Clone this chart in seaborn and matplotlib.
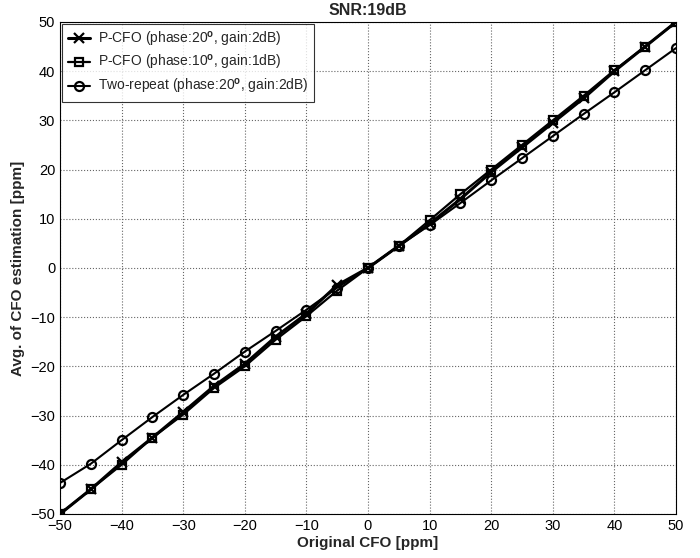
import matplotlib
matplotlib.use("Agg")
import matplotlib.pyplot as plt
import seaborn as sns
import pandas as pd

x_cfo = [-50, -45, -40, -35, -30, -25, -20, -15, -10, -5, 0, 5, 10, 15, 20, 25, 30, 35, 40, 45, 50]
pcfo20 = [-50, -45, -39.5, -34.5, -29.3, -24, -19.5, -14, -9.3, -3.5, 0, 4.5, 9, 14, 19.5, 24.5, 29.5, 34.5, 40, 45, 50]
pcfo10 = [-50, -45, -40, -34.5, -29.8, -24.4, -20, -14.6, -9.8, -4.6, 0, 4.5, 9.7, 15, 20, 25, 30, 35, 40.2, 45, 50]
tworep = [-43.7, -39.8, -35, -30.3, -25.8, -21.5, -17, -12.8, -8.5, -4, 0, 4.5, 8.7, 13.2, 17.8, 22.3, 26.8, 31.3, 35.7, 40.2, 44.7]
labels = ["P-CFO (phase:20$^\\mathbf{o}$, gain:2dB)",
          "P-CFO (phase:10$^\\mathbf{o}$, gain:1dB)",
          "Two-repeat (phase:20$^\\mathbf{o}$, gain:2dB)"]
xticks = [-50, -40, -30, -20, -10, 0, 10, 20, 30, 40, 50]
yticks = [-50, -40, -30, -20, -10, 0, 10, 20, 30, 40, 50]

sns.set_style("white")
plt.rcParams['font.family'] = ['Liberation Sans', 'DejaVu Sans']
plt.rcParams['mathtext.fontset'] = 'custom'
plt.rcParams['mathtext.rm'] = 'Liberation Sans'
plt.rcParams['mathtext.bf'] = 'Liberation Sans:bold'

fig = plt.figure(figsize=(7, 5.58), dpi=100)
ax = fig.add_axes([0.0857, 0.0789, 0.88, 0.8817])

series = [(pcfo20, 'x', 2.2, 7), (pcfo10, 's', 1.6, 6), (tworep, 'o', 1.5, 6.5)]
for (vals, mk, lw, ms), lab in zip(series, labels):
    df = pd.DataFrame({"x": x_cfo, "y": vals})
    sns.lineplot(data=df, x="x", y="y", ax=ax, color='black', marker=mk, markersize=ms,
                 linewidth=lw, markerfacecolor='none', markeredgecolor='black',
                 markeredgewidth=1.6, label=lab)

ax.set_xlim(-50, 50)
ax.set_ylim(-50, 50)
ax.set_xticks(xticks)
ax.set_yticks(yticks)
ax.grid(True, color='#666666', linestyle=':', linewidth=0.8)
for s in ax.spines.values():
    s.set_color('black')
    s.set_linewidth(0.8)
ax.tick_params(axis='both', direction='in', length=4, labelsize=10.5, colors='black')
ax.set_xlabel("Original CFO [ppm]", fontsize=11, fontweight='bold', labelpad=2)
ax.set_ylabel("Avg. of CFO estimation [ppm]", fontsize=11, fontweight='bold', labelpad=4)
ax.set_title("SNR:19dB", fontsize=11.5, fontweight='bold', pad=5)
leg = ax.legend(loc='upper left', fontsize=10, frameon=True, fancybox=False,
                edgecolor='black', borderaxespad=0.15, handlelength=1.6,
                handletextpad=0.6, labelspacing=0.35, borderpad=0.4)
leg.get_frame().set_linewidth(0.8)

fig.savefig("out.png", dpi=100)
